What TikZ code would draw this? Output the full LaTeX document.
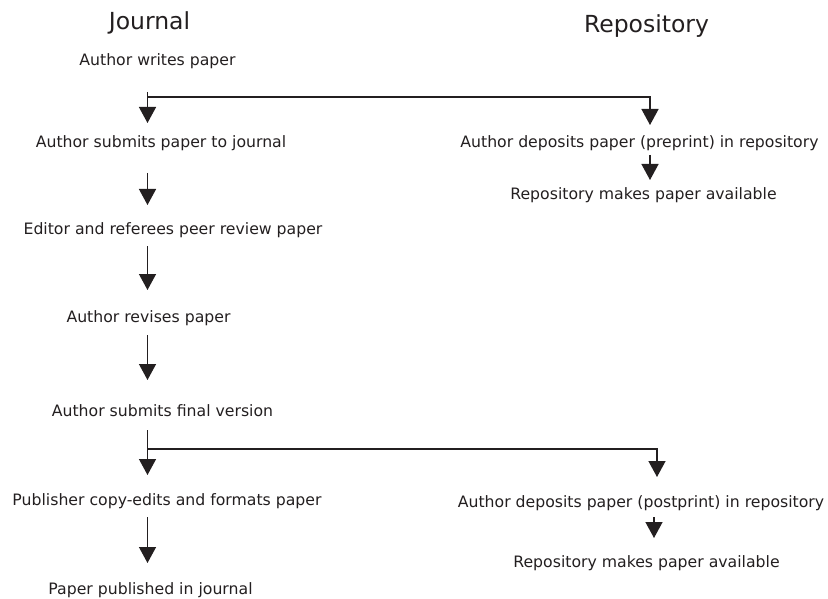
\documentclass[tikz,border=0pt]{standalone}
\usepackage{fontspec}
\setmainfont{DejaVu Sans}
\usepackage{xcolor}
\usetikzlibrary{positioning}
\usetikzlibrary{calc}
\usetikzlibrary{arrows.meta}
\definecolor{ink}{RGB}{35,31,32}
\tikzset{x=1pt,y=-1pt,
      every node/.style={inner sep=0pt, text=ink, anchor=base},
      stage/.style={font=\fontsize{15.7}{18}\selectfont},
      heading/.style={font=\fontsize{23.5}{28}\selectfont},
      flow/.style={draw=ink, line width=1.4pt,
      -{Triangle[length=16pt,width=17pt]}}}

\begin{document}
\begin{tikzpicture}
          \useasboundingbox (0,0) rectangle (828,599);
          \coordinate (spine) at (147.5,0);
          \node[heading] (journal) at (149.5,30) {Journal};
          \node[heading] (repo) at (646.5,33) {Repository};
          \node[stage] (write) at (157.5,66) {Author writes paper};
          \node[stage] (submit) at (161,148) {Author submits paper to journal};
          \node[stage] (review) at (173,235) {Editor and referees peer review paper};
          \node[stage] (revise) at (148.5,322) {Author revises paper};
          \node[stage] (final) at (162.5,416) {Author submits final version};
          \node[stage] (copyedit) at (167,505) {Publisher copy-edits and formats paper};
          \node[stage] (publish) at (150.5,594) {Paper published in journal};
          \node[stage] (preprint) at (639.5,148) {Author deposits paper (preprint) in repository};
          \node[stage] (avail1) at (643.5,200) {Repository makes paper available};
          \node[stage] (postprint) at (641,507) {Author deposits paper (postprint) in repository};
          \node[stage] (avail2) at (646.5,567) {Repository makes paper available};
          \draw[flow] ($(write.base -| spine)+(0,26)$) -- ($(submit.base -| spine)+(0,-25)$);
          \draw[flow] ($(write.base -| spine)+(0,31)$) -| ($(preprint.base)+(10.5,-23)$);
          \draw[flow] ($(submit.base -| spine)+(0,25)$) -- ($(review.base -| spine)+(0,-30)$);
          \draw[flow] ($(review.base -| spine)+(0,11)$) -- ($(revise.base -| spine)+(0,-32)$);
          \draw[flow] ($(revise.base -| spine)+(0,13)$) -- ($(final.base -| spine)+(0,-36)$);
          \draw[flow] ($(final.base -| spine)+(0,14)$) -- ($(copyedit.base -| spine)+(0,-30)$);
          \draw[flow] ($(final.base -| spine)+(0,33)$) -| ($(postprint.base)+(16,-30)$);
          \draw[flow] ($(copyedit.base -| spine)+(0,12)$) -- ($(publish.base -| spine)+(0,-31)$);
          \draw[flow] ($(preprint.base)+(10.5,7)$) -- ($(avail1.base)+(6.5,-20)$);
          \draw[flow] ($(postprint.base)+(13,10)$) -- ($(avail2.base)+(7.5,-29)$);
       \end{tikzpicture}
\end{document}
